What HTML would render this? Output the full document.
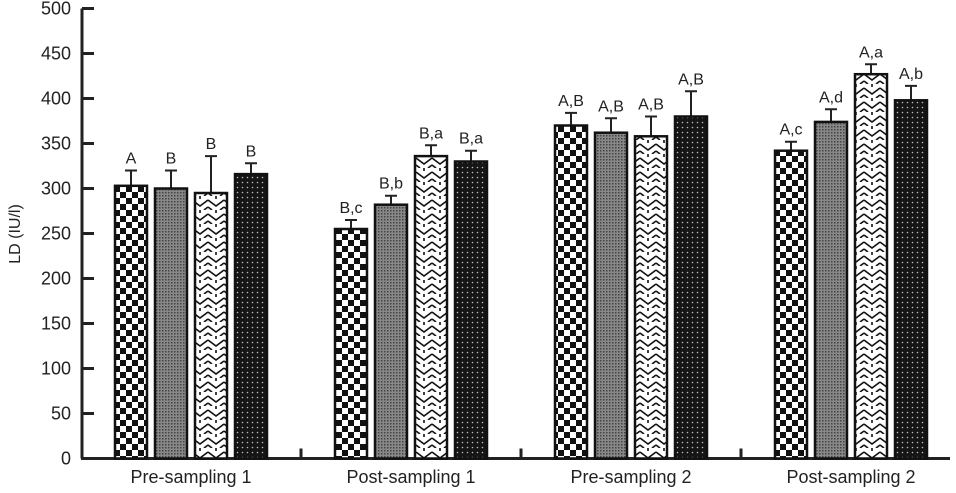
<!DOCTYPE html>
<html><head><meta charset="utf-8"><style>
body{margin:0;background:#fff}
svg text{font-family:"Liberation Sans",sans-serif;fill:#222}
</style></head><body>
<svg id="chart" width="956" height="488" xmlns="http://www.w3.org/2000/svg">
<defs>
<pattern id="pCheck" width="12" height="12" patternUnits="userSpaceOnUse">
<rect width="12" height="12" fill="#fff"/><rect width="6" height="6" fill="#111"/><rect x="6" y="6" width="6" height="6" fill="#111"/></pattern>
<pattern id="pGrey" width="3" height="3" patternUnits="userSpaceOnUse">
<rect width="3" height="3" fill="#888"/><rect width="1.5" height="1.5" fill="#444"/></pattern>
<pattern id="pZig" width="16" height="14" patternUnits="userSpaceOnUse">
<rect width="16" height="14" fill="#fff"/><path d="M0 4 L8 10 L16 4 M0 11 L4 14 M12 14 L16 11 M8 0 L8 3" stroke="#111" stroke-width="1.6" fill="none"/></pattern>
<pattern id="pDot" width="5" height="5" patternUnits="userSpaceOnUse">
<rect width="5" height="5" fill="#151515"/><circle cx="2.5" cy="2.5" r="0.8" fill="#bbb"/></pattern>
</defs>
<g id="plot"></g>
</svg>
<script>
const categories=["Pre-sampling 1","Post-sampling 1","Pre-sampling 2","Post-sampling 2"];
const series1=[303,255,370,342];
const series2=[300,282,362,374];
const series3=[295,336,358,427];
const series4=[316,330,380,398];
const err1=[17,10,14,10];
const err2=[20,10,16,14];
const err3=[41,12,22,11];
const err4=[12,12,28,16];
const labels1=["A","B,c","A,B","A,c"];
const labels2=["B","B,b","A,B","A,d"];
const labels3=["B","B,a","A,B","A,a"];
const labels4=["B","B,a","A,B","A,b"];
const yTicks=[0,50,100,150,200,250,300,350,400,450,500];
const NS="http://www.w3.org/2000/svg";
const g=document.getElementById('plot');
function y(v){return 458.5-v*0.9;}
function gx(i){return 191+i*220;}
function mk(t,a,p){const e=document.createElementNS(NS,t);for(const k in a)e.setAttribute(k,a[k]);(p||g).appendChild(e);return e;}
const ax=mk('line',{x1:82,y1:y(0),x2:82,y2:y(500),stroke:'#222','stroke-width':3});


const xa=mk('line',{x1:81,y1:y(0),x2:950,y2:y(0),stroke:'#222','stroke-width':3});


yTicks.forEach(v=>{
 const t=mk('line',{x1:82,x2:94,y1:y(v),y2:y(v),stroke:'#222','stroke-width':3});
 
 
 const l=mk('text',{x:71,y:y(v)+6,'text-anchor':'end','font-size':18});
 l.textContent=v;
 
 
});
const yt=mk('text',{x:20,y:234,'text-anchor':'middle','font-size':16,transform:'rotate(-90 20 234)'});
yt.textContent='LD (IU/l)';


const S=[series1,series2,series3,series4],E=[err1,err2,err3,err4],L=[labels1,labels2,labels3,labels4];
const fills=['url(#pCheck)','url(#pGrey)','url(#pZig)','url(#pDot)'];
categories.forEach((c,i)=>{
 if(i>0){const d=mk('line',{x1:gx(i)-110,x2:gx(i)-110,y1:y(0),y2:y(0)-10,stroke:'#222','stroke-width':3});
 
 }
 const cl=mk('text',{x:gx(i),y:483,'text-anchor':'middle','font-size':18});
 cl.textContent=c;
 
 
 for(let s=0;s<4;s++){
  const x0=gx(i)-76+s*40,w=32,v=S[s][i],top=y(v+E[s][i]);
  const eb=mk('path',{d:`M${x0+w/2} ${y(v)} V${top} M${x0+w/2-6} ${top} H${x0+w/2+6}`,stroke:'#222','stroke-width':2,fill:'none'});
  
  
  const r=mk('rect',{x:x0,y:y(v),width:w,height:y(0)-y(v),fill:fills[s],stroke:'#111','stroke-width':2.5});
  
  
  const t=mk('text',{x:x0+w/2,y:top-7,'text-anchor':'middle','font-size':16});
  t.textContent=L[s][i];
  
  
 }
});
</script>
</body></html>
